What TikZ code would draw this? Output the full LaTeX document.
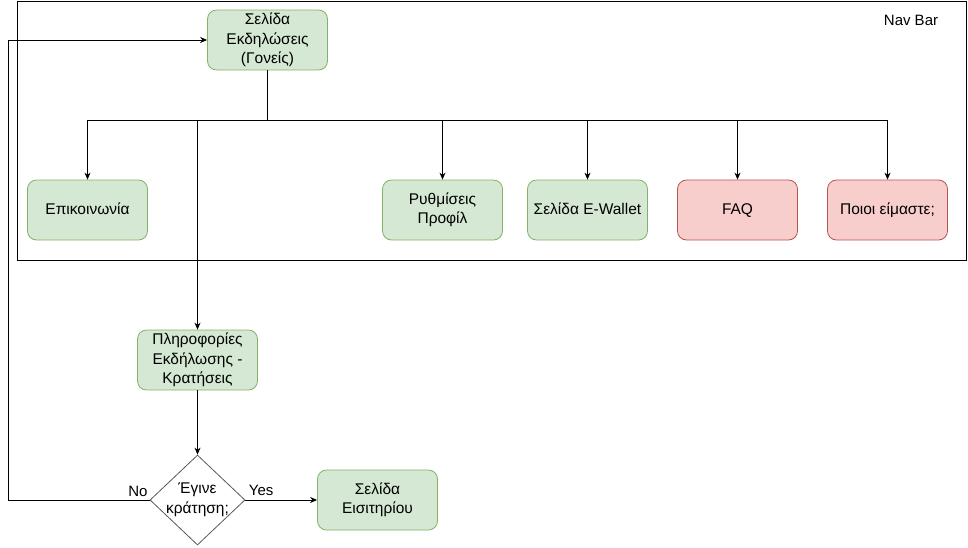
\documentclass[tikz,border=0pt]{standalone}
\usepackage{fontspec}
\setmainfont{Liberation Sans}
\usetikzlibrary{shapes.geometric,arrows.meta}
\definecolor{gfill}{HTML}{D5E8D4}
\definecolor{gdraw}{HTML}{82B366}
\definecolor{rfill}{HTML}{F8CECC}
\definecolor{rdraw}{HTML}{B85450}
\begin{document}
\begin{tikzpicture}[x=1pt,y=-1pt,
  every node/.style={font=\fontsize{15.5}{19.5}\selectfont, align=center},
  gbox/.style={draw=gdraw, fill=gfill, rounded corners=9pt, minimum width=120pt, minimum height=60pt, inner sep=2pt, line width=0.8pt},
  rbox/.style={draw=rdraw, fill=rfill, rounded corners=9pt, minimum width=120pt, minimum height=60pt, inner sep=2pt, line width=0.8pt},
  oneline/.style={text height=11pt, text depth=3pt},
  conn/.style={line width=1pt, draw=black},
  arr/.style={conn, -{Stealth[length=7pt,width=6pt]}},
  lbl/.style={font=\fontsize{15}{17}\selectfont}
]
\useasboundingbox (0,0) rectangle (968,547);
\fill[white] (0,0) rectangle (968,547);
% nav bar container
\draw[line width=1pt] (17.5,1) rectangle (966.5,260.5);
\node[lbl, anchor=center] (navlbl) at (911,20) {Nav Bar};

\node[gbox] (top) at (267.5,40) {Σελίδα\\Εκδηλώσεις\\(Γονείς)};
\node[gbox, oneline] (epik) at (87.5,210) {Επικοινωνία};
\node[gbox] (ryth) at (442.5,210) {Ρυθμίσεις\\Προφίλ};
\node[gbox, oneline] (ewal) at (587.5,210) {Σελίδα E-Wallet};
\node[rbox, oneline] (faq) at (737.5,210) {FAQ};
\node[rbox, oneline] (poioi) at (887.5,210) {Ποιοι είμαστε;};
\node[gbox] (plir) at (197.5,360) {Πληροφορίες\\Εκδήλωσης -\\Κρατήσεις};
\node[diamond, draw=black!65, fill=white, line width=0.8pt, minimum width=95pt, minimum height=90pt, inner sep=-8pt, aspect=1.05] (dec) at (197.5,500) {Έγινε\\κράτηση;};
\node[gbox] (eisit) at (377.5,500) {Σελίδα\\Εισιτηρίου};

\coordinate (bus) at (267.5,120);
\draw[conn] (top.south) -- (bus);
\draw[arr] (bus) -| (epik.north);
\draw[arr] (bus) -| (ryth.north);
\draw[arr] (bus) -| (ewal.north);
\draw[arr] (bus) -| (faq.north);
\draw[arr] (bus) -| (poioi.north);
\draw[arr] (bus) -| (plir.north);
\draw[arr] (plir.south) -- (dec.north);
\draw[arr] (dec.east) -- (eisit.west) node[pos=0.22, above=1pt, lbl] (yes) {Yes};
\coordinate (noA) at (8,500);
\coordinate (noB) at (8,40);
\draw[arr] (dec.west) -- (noA) -- (noB) -- (top.west);
\node[lbl] (no) at (138,491) {No};
\end{tikzpicture}
\end{document}
